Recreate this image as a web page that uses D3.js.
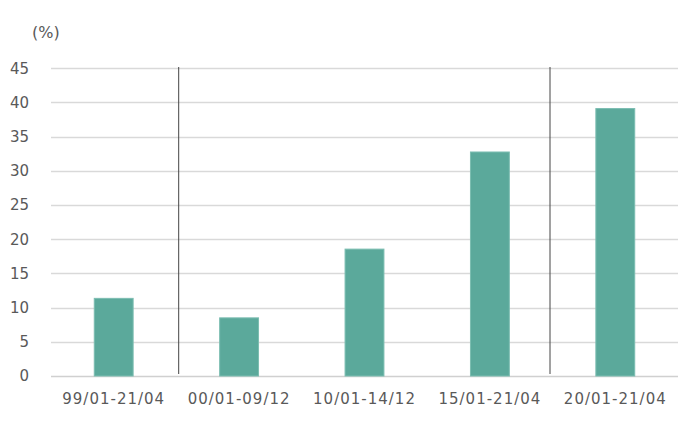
<!DOCTYPE html>
<html><head><meta charset="utf-8">
<script src="https://cdn.jsdelivr.net/npm/d3@7"></script>
<style>body{margin:0;background:#fff}svg{display:block}</style>
</head><body>
<svg id="c" width="700" height="421"></svg>
<script>
const categories = ["99/01-21/04","00/01-09/12","10/01-14/12","15/01-21/04","20/01-21/04"];
const values = [11.35, 8.5, 18.55, 32.75, 39.1];
const yTicks = [0,5,10,15,20,25,30,35,40,45];

const svg = d3.select("#c");
const m = {l:51, r:678, t:68.2, b:376};
const x = d3.scaleBand().domain(categories).range([m.l, m.r]).paddingInner(0.69).paddingOuter(0.345);
const y = d3.scaleLinear().domain([0,45]).range([m.b, m.t]);
const txt = "#595959";
const font = "DejaVu Sans, Verdana, sans-serif";

// grid
svg.append("g").selectAll("line").data(yTicks).join("line")
  .attr("x1", m.l).attr("x2", m.r)
  .attr("y1", d=>Math.round(y(d))+0.5).attr("y2", d=>Math.round(y(d))+0.5)
  .attr("stroke", d=>d===0?"#d0d0d0":"#d9d9d9").attr("stroke-width",1.3);

// y labels
const ya = d3.axisLeft(y).tickValues(yTicks).tickSize(0).tickPadding(0);
const yg = svg.append("g").attr("transform","translate(29,0)").call(ya);
yg.select(".domain").remove();
yg.selectAll("text").attr("fill",txt).style("font-family",font).style("font-size","15px");

svg.append("text").attr("x",32).attr("y",38).attr("fill",txt)
  .style("font-family",font).style("font-size","16px").text("(%)");

// bars
svg.append("g").selectAll("rect").data(values).join("rect")
  .attr("x",(d,i)=>x(categories[i]))
  .attr("width",x.bandwidth())
  .attr("y",d=>y(d))
  .attr("height",d=>y(0)-y(d))
  .attr("fill","#5ba99b").attr("stroke","#7cbdb1").attr("stroke-width",1);

// separators (between 1st/2nd and 4th/5th categories)
svg.append("g").selectAll("line").data([178.7, 550]).join("line")
  .attr("x1",d=>d).attr("x2",d=>d).attr("y1",67).attr("y2",374)
  .attr("stroke","#444").attr("stroke-width",1);

// x labels
const xa = d3.axisBottom(x).tickSize(0).tickPadding(0);
const xg = svg.append("g").attr("transform","translate(0,393)").call(xa);
xg.select(".domain").remove();
xg.selectAll("text").attr("fill",txt).attr("dy","0.71em").style("font-family",font)
  .style("font-size","15px").style("letter-spacing","1px");
</script>
</body></html>
